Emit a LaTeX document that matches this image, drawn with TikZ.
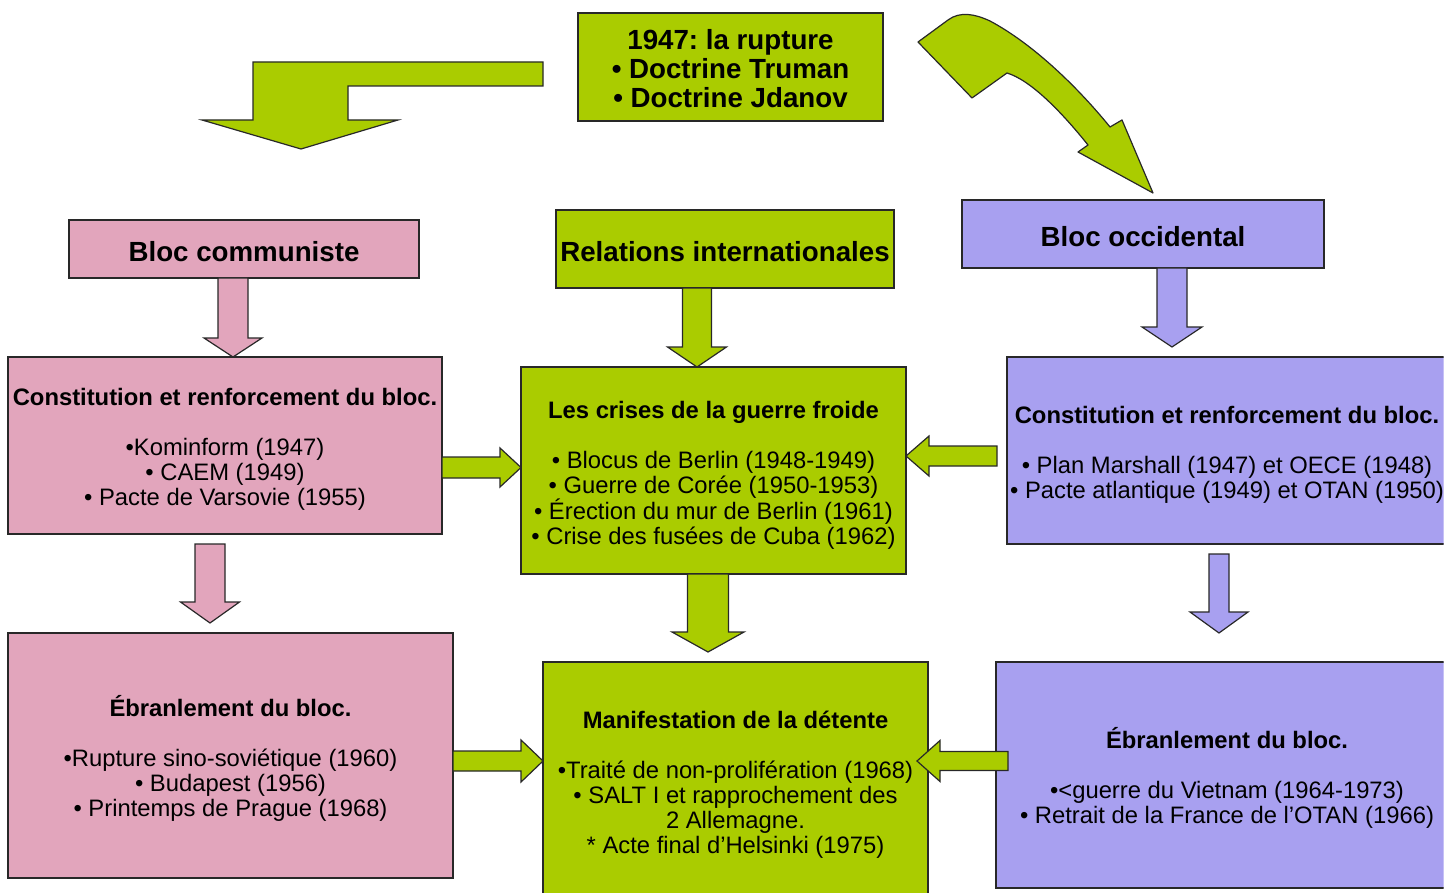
\documentclass[tikz,border=0pt]{standalone}
\usepackage{fontspec}
\setmainfont{Liberation Sans}
\frenchspacing
\definecolor{pinkb}{RGB}{226,165,188}
\definecolor{greenb}{RGB}{170,204,0}
\definecolor{lavb}{RGB}{168,160,240}
\definecolor{edgec}{RGB}{40,40,40}
\newcommand\varrowblk[7]{%
  \filldraw[arrowblk, fill=#1] (#2-#6,#3) -- (#2+#6,#3) -- (#2+#6,#4) -- (#2+#7,#4) -- (#2,#5) -- (#2-#7,#4) -- (#2-#6,#4) -- cycle;}
\newcommand\harrowblk[7]{%
  \filldraw[arrowblk, fill=#1] (#3,#2-#6) -- (#4,#2-#6) -- (#4,#2-#7) -- (#5,#2) -- (#4,#2+#7) -- (#4,#2+#6) -- (#3,#2+#6) -- cycle;}
\tikzset{
  arrowblk/.style={draw=edgec, line width=1.2pt, line join=miter},
  box/.style={draw=edgec, line width=1.3pt, inner sep=0pt},
  txt/.style={align=center, inner sep=0pt, font=\fontsize{23.8}{25}\selectfont},
  headtxt/.style={align=center, inner sep=0pt, font=\fontsize{27.7}{29}\selectfont\bfseries},
}
\begin{document}
\begin{tikzpicture}[x=1pt,y=-1pt]
\useasboundingbox (0,0) rectangle (1453,893);
\clip (0,0) rectangle (1443.5,893);

% top box
\node[box, fill=greenb, minimum width=305, minimum height=108] (top) at (730.5,67) {};
\node[headtxt] (topt) at ([yshift=-2pt]top.center) {1947: la rupture\\• Doctrine Truman\\• Doctrine Jdanov};

% heading boxes
\node[box, fill=pinkb, minimum width=350, minimum height=58] (comm) at (244,249) {};
\node[headtxt] (commt) at ([yshift=-3pt]comm.center) {Bloc communiste};
\node[box, fill=greenb, minimum width=338, minimum height=78] (rel) at (725,249) {};
\node[headtxt] (relt) at ([yshift=-3pt]rel.center) {Relations internationales};
\node[box, fill=lavb, minimum width=362, minimum height=68] (occ) at (1143,234) {};
\node[headtxt] (occt) at ([yshift=-3pt]occ.center) {Bloc occidental};

% middle row
\node[box, fill=pinkb, minimum width=434, minimum height=177] (cl) at (225,445.5) {};
\node[txt] (clt) at ([yshift=-4pt]cl.center)
  {\textbf{Constitution et renforcement du bloc.}\\[25pt]•Kominform (1947)\\• CAEM (1949)\\• Pacte de Varsovie (1955)};
\node[box, fill=greenb, minimum width=385, minimum height=207] (cr) at (713.5,470.5) {};
\node[txt] (crt) at ([yshift=-5pt]cr.center)
  {\textbf{Les crises de la guerre froide}\\[25pt]• Blocus de Berlin (1948-1949)\\• Guerre de Corée (1950-1953)\\• Érection du mur de Berlin (1961)\\• Crise des fusées de Cuba (1962)};
\node[box, fill=lavb, minimum width=440, minimum height=187] (co) at (1227,450.5) {};
\node[txt] (cot) at ([yshift=-4pt]co.center)
  {\textbf{Constitution et renforcement du bloc.}\\[25pt]• Plan Marshall (1947) et OECE (1948)\\• Pacte atlantique (1949) et OTAN (1950)};

% bottom row
\node[box, fill=pinkb, minimum width=445, minimum height=245] (el) at (230.5,755.5) {};
\node[txt] (elt) at ([yshift=-3pt]el.center)
  {\textbf{Ébranlement du bloc.}\\[25pt]•Rupture sino-soviétique (1960)\\• Budapest (1956)\\• Printemps de Prague (1968)};
\node[box, fill=greenb, minimum width=385, minimum height=244] (md) at (735.5,784) {};
\node[txt] (mdt) at ([yshift=-1pt]md.center)
  {\textbf{Manifestation de la détente}\\[25pt]•Traité de non-prolifération (1968)\\• SALT I et rapprochement des\\2 Allemagne.\\* Acte final d’Helsinki (1975)};
\node[box, fill=lavb, minimum width=462, minimum height=226] (eo) at (1227,775) {};
\node[txt] (eot) at ([yshift=-3pt]eo.center)
  {\textbf{Ébranlement du bloc.}\\[25pt]•\textless guerre du Vietnam (1964-1973)\\• Retrait de la France de l’OTAN (1966)};

% bent arrow (left)
\filldraw[arrowblk, fill=greenb] (543,62) -- (253,62) -- (253,120) -- (202,120) -- (301,149) -- (398,120) -- (348,120) -- (348,86) -- (543,86) -- cycle;

% curved arrow (right)
\filldraw[arrowblk, fill=greenb, line join=round] (918,42) -- (948,20)
  .. controls (960,11) and (975,14) .. (990,21)
  .. controls (1035,45) and (1080,90) .. (1110,127)
  -- (1122,120) -- (1153,193) -- (1078,152) -- (1088,145)
  .. controls (1060,110) and (1030,80) .. (1007,73)
  -- (972,98) -- cycle;

% vertical block arrows
\varrowblk{pinkb}{233}{278}{338}{357}{15}{29}
\varrowblk{greenb}{697}{288}{347}{367}{14.5}{29.5}
\varrowblk{lavb}{1172}{268}{327}{347}{15}{30}
\varrowblk{pinkb}{210}{544}{602}{623}{15}{29.5}
\varrowblk{greenb}{708}{574}{632}{652}{20.5}{36}
\varrowblk{lavb}{1219}{554}{612}{633}{10}{29}

% horizontal block arrows
\harrowblk{greenb}{467.5}{442}{500}{521}{10.5}{19.5}
\harrowblk{greenb}{456}{997}{929}{906}{10}{20}
\harrowblk{greenb}{761}{453}{521}{543}{10}{21}
\harrowblk{greenb}{761}{1008}{940}{917}{9.5}{20.5}
\end{tikzpicture}
\end{document}
